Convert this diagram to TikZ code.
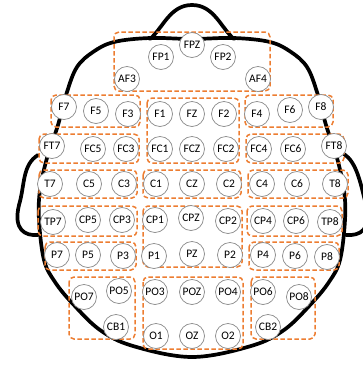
\documentclass[tikz,border=0pt]{standalone}
\usepackage{fontspec}
\setmainfont{Carlito}
\definecolor{grporange}{HTML}{ED7D31}
\definecolor{ringgray}{HTML}{8A8A8A}
\tikzset{
  elec/.style={circle, draw=ringgray, line width=0.7pt, fill=white,
    minimum size=25pt, inner sep=0pt, font=\fontsize{11.5}{12}\selectfont},
  grp/.style={draw=grporange, line width=1.5pt, dash pattern=on 4.5pt off 2.5pt,
    rounded corners=5pt},
  head/.style={line width=3.7pt, line join=round, line cap=round}
}
\begin{document}
\begin{tikzpicture}[x=1pt,y=-1pt]
\useasboundingbox (0,0) rectangle (363,365);
\clip (0,0) rectangle (363,365);

% head outline, nose and ears
\draw[head] plot[smooth cycle, tension=0.6] coordinates {
  (150,38) (114,42) (93,52) (77,67) (67,92) (58,125) (47,158) (40,190)
  (39,220) (44,260) (55,282) (73,304) (100,330) (133,346) (192,357)
  (251,346) (284,330) (311,304) (329,282) (340,260) (345,220) (344,190)
  (337,158) (326,125) (317,92) (307,67) (291,52) (270,42) (234,38) (192,39)};
\draw[head] (150,39) .. controls (163,28) and (170,5) .. (192,5)
  .. controls (214,5) and (221,28) .. (234,39);
\draw[head] (38,155) .. controls (22,165) and (25,185) .. (19,205)
  .. controls (13,230) and (25,236) .. (38,235);
\draw[head] (344,154) .. controls (356,162) and (360,180) .. (366,205)
  .. controls (372,230) and (360,236) .. (346,235);

% electrode groups
\draw[grp] (114,32) rectangle (270,91);
\draw[grp] (51,95) rectangle (140,127);
\draw[grp] (147,98) rectangle (239,163);
\draw[grp] (245,95) rectangle (333,127);
\draw[grp] (39,134) rectangle (139,163);
\draw[grp] (246,134) rectangle (344,163);
\draw[grp] (39,170) rectangle (137,198);
\draw[grp] (143,170) rectangle (241,198);
\draw[grp] (248,170) rectangle (348,198);
\draw[grp] (38,206) rectangle (137,236);
\draw[grp] (45,242) rectangle (136,270);
\draw[grp] (143,206) rectangle (242,267);
\draw[grp] (247,206) rectangle (342,236);
\draw[grp] (249,242) rectangle (339,270);
\draw[grp] (69,277) rectangle (135,339);
\draw[grp] (143,277) rectangle (243,349);
\draw[grp] (251,277) rectangle (315,339);

% electrodes
\node[elec] (FPZ) at (192,45) {FPZ};
\node[elec] (FP1) at (161,57) {FP1};
\node[elec] (FP2) at (223,57) {FP2};
\node[elec] (AF3) at (127,79) {AF3};
\node[elec] (AF4) at (258,79) {AF4};

\node[elec] (F7) at (64,107) {F7};
\node[elec] (F5) at (96,111) {F5};
\node[elec] (F3) at (128,114) {F3};
\node[elec] (F1) at (160,114) {F1};
\node[elec] (FZ) at (192,114) {FZ};
\node[elec] (F2) at (224,114) {F2};
\node[elec] (F4) at (257,114) {F4};
\node[elec] (F6) at (290,110) {F6};
\node[elec] (F8) at (321,107) {F8};

\node[elec] (FT7) at (52,146) {FT7};
\node[elec] (FC5) at (93,149) {FC5};
\node[elec] (FC3) at (126,149) {FC3};
\node[elec] (FC1) at (160,149) {FC1};
\node[elec] (FCZ) at (192,149) {FCZ};
\node[elec] (FC2) at (226,149) {FC2};
\node[elec] (FC4) at (259,149) {FC4};
\node[elec] (FC6) at (293,149) {FC6};
\node[elec] (FT8) at (334,146) {FT8};

\node[elec] (T7) at (50,184) {T7};
\node[elec] (C5) at (89,184) {C5};
\node[elec] (C3) at (124,184) {C3};
\node[elec] (C1) at (156,184) {C1};
\node[elec] (CZ) at (192,184) {CZ};
\node[elec] (C2) at (229,184) {C2};
\node[elec] (C4) at (262,184) {C4};
\node[elec] (C6) at (297,184) {C6};
\node[elec] (T8) at (335,184) {T8};

\node[elec] (TP7) at (53,222) {TP7};
\node[elec] (CP5) at (88,220) {CP5};
\node[elec] (CP3) at (122,220) {CP3};
\node[elec] (CP1) at (155,220) {CP1};
\node[elec] (CPZ) at (191,218) {CPZ};
\node[elec] (CP2) at (228,221) {CP2};
\node[elec] (CP4) at (263,221) {CP4};
\node[elec] (CP6) at (296,221) {CP6};
\node[elec] (TP8) at (330,222) {TP8};

\node[elec] (P7) at (57,255) {P7};
\node[elec] (P5) at (88,255) {P5};
\node[elec] (P3) at (123,256) {P3};
\node[elec] (P1) at (154,256) {P1};
\node[elec] (PZ) at (192,254) {PZ};
\node[elec] (P2) at (230,255) {P2};
\node[elec] (P4) at (263,255) {P4};
\node[elec] (P6) at (295,256) {P6};
\node[elec] (P8) at (327,257) {P8};

\node[elec] (PO7) at (84,297) {PO7};
\node[elec] (PO5) at (119,291) {PO5};
\node[elec] (PO3) at (155,292) {PO3};
\node[elec] (POZ) at (192,292) {POZ};
\node[elec] (PO4) at (228,292) {PO4};
\node[elec] (PO6) at (263,292) {PO6};
\node[elec] (PO8) at (299,297) {PO8};
\node[elec] (CB1) at (116,327) {CB1};
\node[elec] (CB2) at (268,327) {CB2};

\node[elec] (O1) at (156,336) {O1};
\node[elec] (OZ) at (192,336) {OZ};
\node[elec] (O2) at (228,336) {O2};
\end{tikzpicture}
\end{document}
